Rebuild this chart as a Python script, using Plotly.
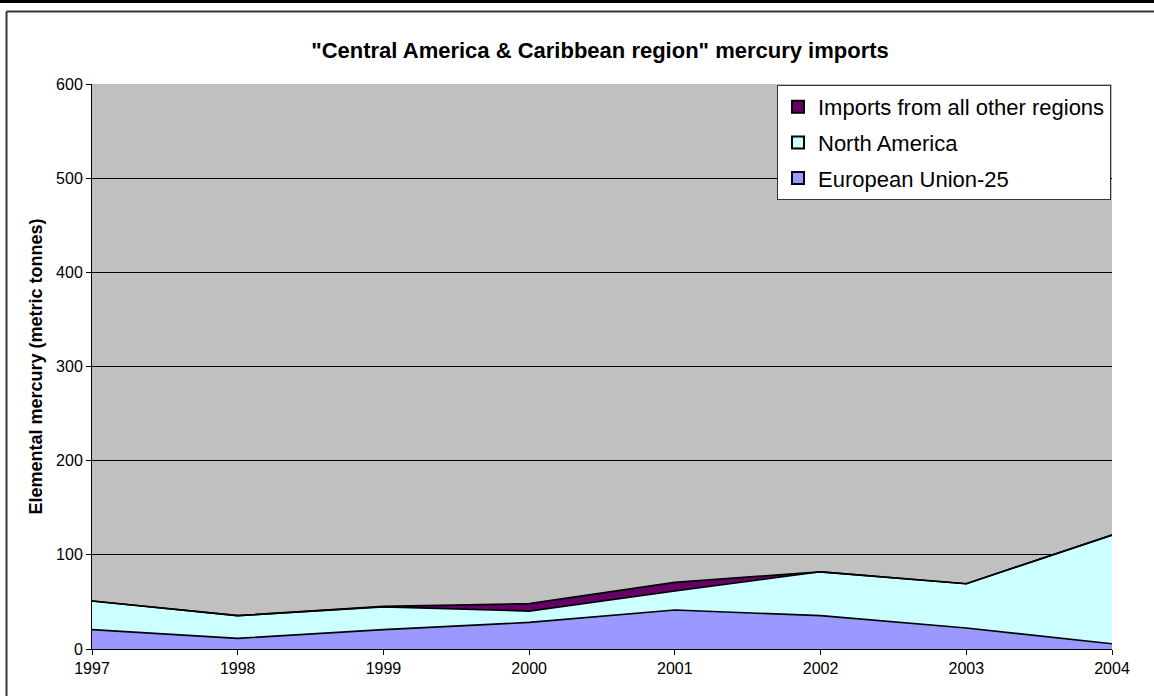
import plotly.graph_objects as go

years = [1997, 1998, 1999, 2000, 2001, 2002, 2003, 2004]
eu25 = [20.5, 11.3, 20.5, 28.2, 41.4, 35.4, 22.3, 5.6]
north_america = [30.5, 24.1, 24.2, 12.1, 20.2, 46.6, 47.0, 115.4]
other_regions = [0, 0, 0.5, 7.8, 9.1, 0, 0, 0]

series = [
    ("European Union-25", eu25, "#9999FF"),
    ("North America", north_america, "#CCFFFF"),
    ("Imports from all other regions", other_regions, "#660066"),
]

fig = go.Figure()
for i, (name, vals, col) in enumerate(series):
    fig.add_trace(go.Scatter(
        x=years, y=vals, name=name, mode="lines",
        stackgroup="one", fillcolor=col,
        line=dict(color="black", width=1.7),
        showlegend=False, hoverinfo="x+y+name",
    ))

# legend entries with square swatches (top-to-bottom: other, NA, EU)
for i, (name, vals, col) in enumerate(series):
    fig.add_trace(go.Scatter(
        x=[None], y=[None], name=name, mode="markers",
        marker=dict(symbol="square", size=12, color=col, line=dict(color="black", width=1)),
        legendgroup=f"g{i}", legendrank=3 - i, showlegend=True,
    ))

W, H = 1154, 696
L, R, T, B = 92, 1112, 84, 649


def px(x):
    return (x - L) / (R - L)


def py(y):
    return (B - y) / (B - T)


shapes = [
    dict(type="line", xref="paper", yref="paper", x0=px(0), x1=px(W), y0=py(1.5), y1=py(1.5),
         line=dict(color="black", width=3)),
    dict(type="line", xref="paper", yref="paper", x0=px(6.5), x1=px(W), y0=py(11.5), y1=py(11.5),
         line=dict(color="#333333", width=2)),
    dict(type="line", xref="paper", yref="paper", x0=px(6.5), x1=px(6.5), y0=py(11.5), y1=py(H),
         line=dict(color="#333333", width=2)),
]

fig.update_layout(
    width=W, height=H,
    margin=dict(l=L, r=W - R, t=T, b=H - B),
    paper_bgcolor="white",
    plot_bgcolor="#C0C0C0",
    font=dict(family="Liberation Sans, Arial, sans-serif", color="black", size=16),
    title=dict(text='<b>"Central America &amp; Caribbean region" mercury imports</b>',
               x=600 / W, xanchor="center",
               y=1 - 50 / H, yanchor="middle",
               font=dict(size=22, color="black")),
    xaxis=dict(range=[1997, 2004], tickmode="array", tickvals=years,
               ticktext=[str(y) for y in years],
               showgrid=False, zeroline=False, showline=True, linecolor="black", linewidth=1,
               ticks="outside", ticklen=5, tickcolor="black",
               tickfont=dict(size=16)),
    yaxis=dict(range=[0, 600], tickvals=[0, 100, 200, 300, 400, 500, 600],
               showgrid=True, gridcolor="black", gridwidth=1, zeroline=False,
               showline=True, linecolor="black", linewidth=1,
               ticks="outside", ticklen=5, tickcolor="black",
               tickfont=dict(size=16),
               title=dict(text="<b>Elemental mercury (metric tonnes)</b>",
                          font=dict(size=18), standoff=8)),
    legend=dict(x=px(777), y=py(85), xanchor="left", yanchor="top",
                bgcolor="white", bordercolor="#333333", borderwidth=1,
                font=dict(size=22), traceorder="grouped", tracegroupgap=4,
                itemsizing="constant"),
    shapes=shapes,
    showlegend=True,
)

fig.write_html("out.html", config={"displayModeBar": False},
               post_script="document.body.style.margin='0';document.body.style.padding='0';")
